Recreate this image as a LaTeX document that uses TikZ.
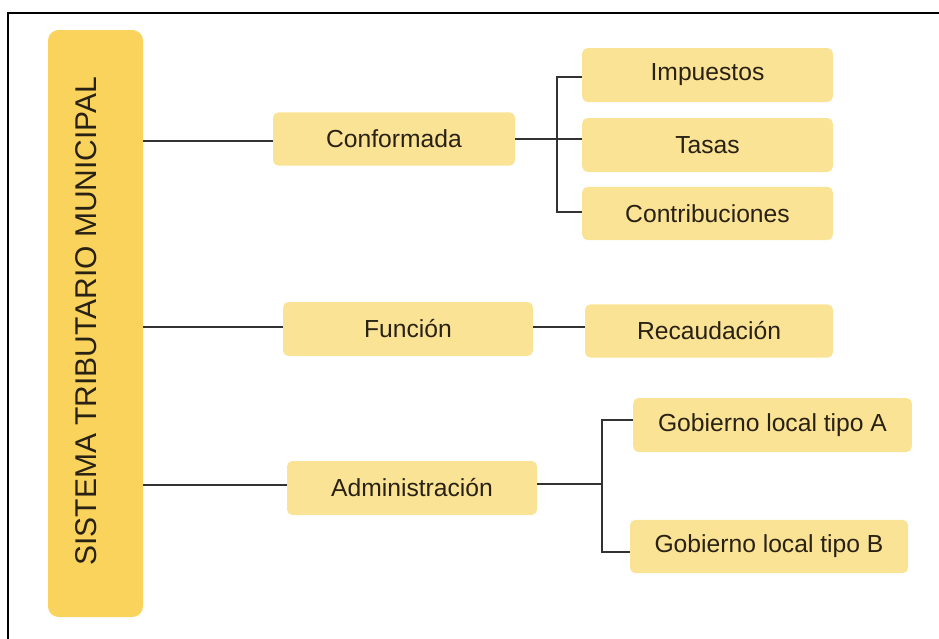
\documentclass[tikz,border=0pt]{standalone}
\usepackage{fontspec}
\setmainfont{Liberation Sans}
\usepackage{tikz}
\usetikzlibrary{calc}

\definecolor{mainyellow}{RGB}{250,211,92}
\definecolor{boxyellow}{RGB}{251,227,150}
\definecolor{inkdark}{RGB}{40,33,20}
\definecolor{linegray}{RGB}{50,50,50}

\tikzset{
  itembox/.style={fill=boxyellow, rounded corners=4pt, inner sep=0pt, text=inkdark,
    font=\fontsize{18.5}{22}\selectfont, anchor=center},
  conn/.style={draw=linegray, line width=1.8pt},
}

\begin{document}
\begin{tikzpicture}[x=0.75pt,y=0.75pt,yscale=-1,xscale=1]
\useasboundingbox (0,0) rectangle (939,639);

%Frame: top and left sides
\draw [line width=1.6pt] (8,639) -- (8,13) -- (939,13) ;

%Shape: Rounded Rect [id:sistema]
\node (sist) [fill=mainyellow, rounded corners=8pt, inner sep=0pt, minimum width=71.25pt, minimum height=440.25pt] at (95.5,323.5) {};
% Text Node
\node (sisttext) [rotate=90, text=inkdark, inner sep=0pt, font=\fontsize{22.5}{26}\selectfont] at (86,321) {SISTEMA TRIBUTARIO MUNICIPAL};

%Shape: Rounded Rect [id:conformada]
\node (conf) [itembox, minimum width=181.5pt, minimum height=40pt] at (394,139) {Conformada};
%Shape: Rounded Rect [id:funcion]
\node (func) [itembox, minimum width=187.5pt, minimum height=40.5pt] at (408,329) {Función};
%Shape: Rounded Rect [id:administracion]
\node (adm) [itembox, minimum width=187.5pt, minimum height=40.5pt] at (412,488) {Administración};

%Shape: Rounded Rect [id:impuestos]
\node (imp) [itembox, minimum width=188pt, minimum height=40.5pt] at (707.5,75) {Impuestos};
%Shape: Rounded Rect [id:tasas]
\node (tas) [itembox, minimum width=188pt, minimum height=40.5pt] at (707.5,145) {Tasas};
%Shape: Rounded Rect [id:contribuciones]
\node (contr) [itembox, minimum width=188pt, minimum height=40pt] at (707.5,213.5) {Contribuciones};
%Shape: Rounded Rect [id:recaudacion]
\node (rec) [itembox, minimum width=186pt, minimum height=40pt] at (709,331) {Recaudación};
%Shape: Rounded Rect [id:gobiernoA]
\node (gobA) [itembox, minimum width=209pt, minimum height=40.5pt] at (772.5,425) {Gobierno local tipo A};
%Shape: Rounded Rect [id:gobiernoB]
\node (gobB) [itembox, minimum width=208.5pt, minimum height=40pt] at (769,546.5) {Gobierno local tipo B};

%Straight Lines: from sistema
\draw [conn] (sist.east |- 0,141) -- (conf.west |- 0,141) ;
\draw [conn] (sist.east |- 0,327) -- (func.west |- 0,327) ;
\draw [conn] (sist.east |- 0,485) -- (adm.west |- 0,485) ;

%Bracket: conformada
\coordinate (brconf) at (557,139);
\draw [conn] (conf.east) -- (brconf) ;
\draw [conn] (imp.west |- 0,77) -| (brconf) |- (contr.west |- 0,212) ;
\draw [conn] (brconf) -- (brconf -| tas.west) ;

%Straight Lines: funcion
\draw [conn] (func.east |- 0,327) -- (rec.west |- 0,327) ;

%Bracket: administracion
\coordinate (bradm) at (602,484);
\draw [conn] (adm.east |- bradm) -- (bradm) ;
\draw [conn] (gobA.west |- 0,420) -| (bradm) |- (gobB.west |- 0,552) ;

\end{tikzpicture}
\end{document}
